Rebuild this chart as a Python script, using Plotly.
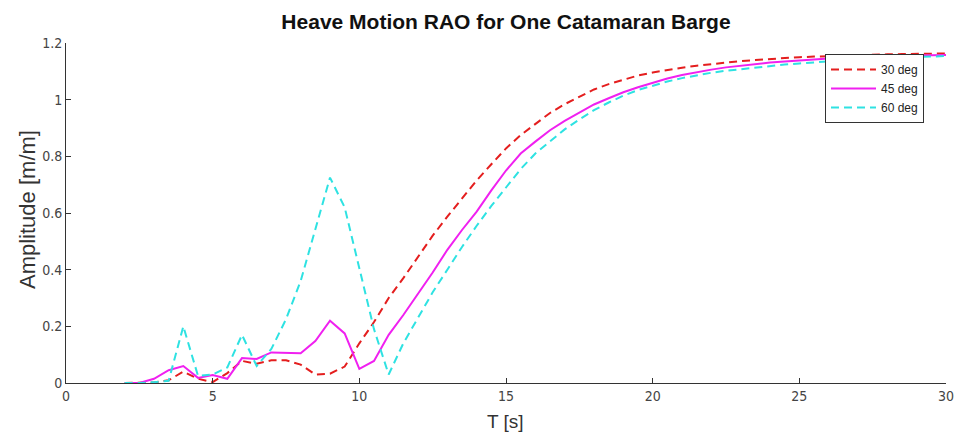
import plotly.graph_objects as go

T = [2.0, 2.5, 3.0, 3.5, 4.0, 4.5, 5.0, 5.5, 6.0, 6.5, 7.0, 7.5, 8.0, 8.5, 9.0, 9.5,
     10.0, 10.5, 11.0, 11.5, 12.0, 12.5, 13.0, 13.5, 14.0, 14.5, 15.0, 15.5, 16.0, 16.5,
     17.0, 17.5, 18.0, 18.5, 19.0, 19.5, 20.0, 20.5, 21.0, 21.5, 22.0, 22.5, 23.0, 23.5,
     24.0, 24.5, 25.0, 25.5, 26.0, 26.5, 27.0, 27.5, 28.0, 28.5, 29.0, 29.5, 30.0]

rao_30 = [0.0, 0.0, 0.002, 0.01, 0.04, 0.015, 0.003, 0.035, 0.078, 0.068, 0.08, 0.08,
          0.065, 0.03, 0.033, 0.058, 0.14, 0.215, 0.30, 0.37, 0.445, 0.52, 0.587, 0.652,
          0.715, 0.772, 0.828, 0.875, 0.915, 0.953, 0.984, 1.01, 1.036, 1.055, 1.071, 1.085,
          1.096, 1.105, 1.113, 1.12, 1.126, 1.131, 1.136, 1.14, 1.144, 1.147, 1.15, 1.152,
          1.154, 1.156, 1.158, 1.159, 1.16, 1.161, 1.162, 1.163, 1.163]

rao_45 = [0.0, 0.0, 0.015, 0.045, 0.06, 0.018, 0.028, 0.015, 0.088, 0.085, 0.108, 0.107,
          0.105, 0.148, 0.22, 0.175, 0.05, 0.078, 0.17, 0.24, 0.315, 0.39, 0.47, 0.54,
          0.605, 0.68, 0.75, 0.81, 0.852, 0.892, 0.925, 0.955, 0.983, 1.005, 1.026, 1.044,
          1.06, 1.075, 1.087, 1.097, 1.106, 1.114, 1.12, 1.126, 1.131, 1.135, 1.139, 1.142,
          1.145, 1.148, 1.15, 1.152, 1.154, 1.155, 1.156, 1.157, 1.158]

rao_60 = [0.0, 0.0, 0.003, 0.008, 0.2, 0.025, 0.03, 0.055, 0.17, 0.06, 0.12, 0.225,
          0.36, 0.54, 0.725, 0.62, 0.40, 0.19, 0.03, 0.14, 0.23, 0.32, 0.40, 0.48,
          0.555, 0.625, 0.69, 0.755, 0.81, 0.852, 0.895, 0.93, 0.963, 0.99, 1.014, 1.034,
          1.05, 1.064, 1.076, 1.086, 1.095, 1.102, 1.108, 1.114, 1.119, 1.124, 1.128, 1.132,
          1.136, 1.139, 1.142, 1.145, 1.147, 1.149, 1.151, 1.153, 1.154]

series_names = ["30 deg", "45 deg", "60 deg"]
x_ticks = [0, 5, 10, 15, 20, 25, 30]
y_ticks = [0, 0.2, 0.4, 0.6, 0.8, 1.0, 1.2]
y_tick_labels = ["0", "0.2", "0.4", "0.6", "0.8", "1", "1.2"]

TICKFONT = "Liberation Sans Narrow, Arial Narrow, DejaVu Sans Condensed, Liberation Sans, Arial, sans-serif"
FONT = "Liberation Sans, Arial, Helvetica, sans-serif"

W, H = 958, 436
L, R, TOP, B = 66, 12, 43, 53
PW, PH = W - L - R, H - TOP - B

fig = go.Figure()
fig.add_trace(go.Scatter(x=T, y=rao_30, mode="lines", name=series_names[0],
                         line=dict(color="#e41e1e", width=2, dash="8px,5px")))
fig.add_trace(go.Scatter(x=T, y=rao_45, mode="lines", name=series_names[1],
                         line=dict(color="#f020f0", width=2)))
fig.add_trace(go.Scatter(x=T, y=rao_60, mode="lines", name=series_names[2],
                         line=dict(color="#2ee2e2", width=2, dash="8px,5px")))

axis_common = dict(showgrid=False, zeroline=False, showline=True, linecolor="#333333",
                   linewidth=1, ticks="inside", ticklen=5, tickcolor="#333333",
                   tickfont=dict(family=TICKFONT, size=14, color="#444444"),
                   mirror=False, automargin=False)

fig.update_layout(
    width=W, height=H,
    margin=dict(l=L, r=R, t=TOP, b=B, autoexpand=False),
    paper_bgcolor="white", plot_bgcolor="white",
    title=dict(text="<b>Heave Motion RAO for One Catamaran Barge</b>",
               x=506 / W, xanchor="center", y=1 - 22 / H, yanchor="middle",
               font=dict(family=FONT, size=21, color="#111111")),
    xaxis=dict(range=[0, 30], tickvals=x_ticks, **axis_common),
    yaxis=dict(range=[0, 1.2], tickvals=y_ticks, ticktext=y_tick_labels, **axis_common),
    legend=dict(x=(825 - L) / PW, y=(H - B - 54) / PH, xanchor="left", yanchor="top",
                bgcolor="white", bordercolor="#333333", borderwidth=1,
                font=dict(family=FONT, size=12, color="#222222"),
                tracegroupgap=0, itemwidth=45),
    showlegend=True,
    annotations=[
        dict(text="T [s]", xref="paper", yref="paper", x=(505 - L) / PW, y=-(421 - (H - B)) / PH,
             xanchor="center", yanchor="middle", showarrow=False,
             font=dict(family=FONT, size=19, color="#333333")),
        dict(text="Amplitude [m/m]", xref="paper", yref="paper", x=-(L - 27) / PW,
             y=(H - B - 210) / PH, xanchor="center", yanchor="middle", showarrow=False,
             textangle=-90, font=dict(family=FONT, size=22, color="#333333")),
    ],
)

fig.write_html("out.html")
